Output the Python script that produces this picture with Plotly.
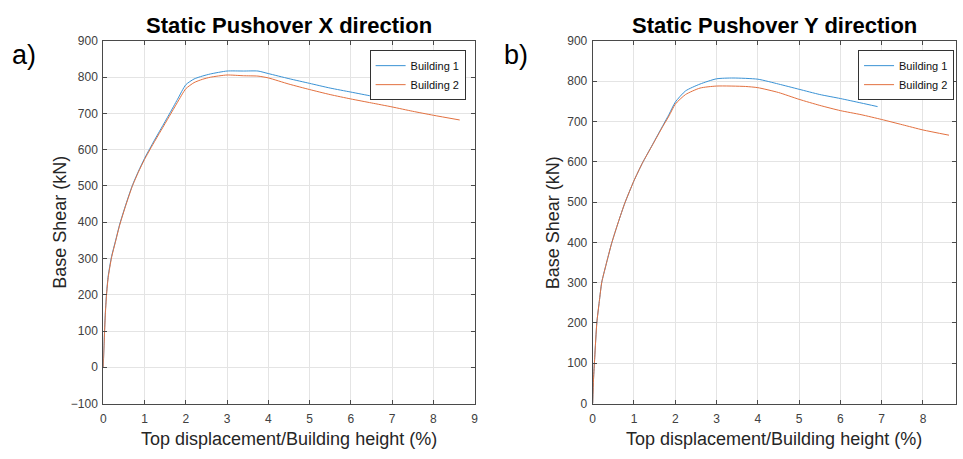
import plotly.graph_objects as go

# ---------------- data ----------------
# X direction
x_dir_b1_x = [0, 0.02, 0.05, 0.08, 0.12, 0.2, 0.3, 0.4, 0.55, 0.7, 0.85, 1.0, 1.2, 1.4, 1.6, 1.8, 2.0, 2.2, 2.4, 2.6, 3.0, 3.4, 3.75, 4.0, 4.5, 5.0, 5.5, 6.0, 6.5, 6.9]
x_dir_b1_y = [0, 70, 150, 205, 252, 305, 350, 395, 450, 500, 540, 576, 618, 658, 698, 739, 779, 795, 803, 809, 817, 817, 817, 810, 796, 783, 770, 759, 748, 740]
x_dir_b2_x = [0, 0.02, 0.05, 0.08, 0.12, 0.2, 0.3, 0.4, 0.55, 0.7, 0.85, 1.0, 1.2, 1.4, 1.6, 1.8, 2.0, 2.2, 2.4, 2.6, 3.0, 3.4, 3.75, 4.0, 4.5, 5.0, 5.5, 6.0, 6.5, 7.0, 7.5, 8.0, 8.64]
x_dir_b2_y = [0, 65, 145, 200, 248, 302, 348, 393, 448, 498, 538, 573, 614, 653, 692, 731, 768, 785, 794, 800, 806, 804, 803, 798, 781, 766, 752, 740, 729, 718, 706, 695, 682]

# Y direction
y_dir_b1_x = [0, 0.02, 0.05, 0.1, 0.16, 0.22, 0.32, 0.46, 0.62, 0.78, 1.0, 1.2, 1.45, 1.7, 1.85, 2.0, 2.25, 2.6, 3.0, 3.4, 4.0, 4.5, 5.0, 5.5, 6.0, 6.5, 6.9]
y_dir_b1_y = [0, 60, 115, 200, 253, 301, 343, 398, 450, 498, 553, 596, 643, 690, 718, 748, 776, 793, 806, 808, 805, 793, 780, 767, 757, 746, 737]
y_dir_b2_x = [0, 0.02, 0.05, 0.1, 0.16, 0.22, 0.32, 0.46, 0.62, 0.78, 1.0, 1.2, 1.45, 1.7, 1.85, 2.0, 2.25, 2.6, 3.0, 3.7, 4.0, 4.5, 5.0, 5.5, 6.0, 6.5, 7.0, 7.5, 8.0, 8.63]
y_dir_b2_y = [0, 60, 115, 200, 253, 301, 343, 398, 450, 498, 553, 596, 642, 688, 714, 743, 767, 783, 788, 787, 784, 772, 755, 740, 727, 717, 705, 692, 679, 666]

series_names = ["Building 1", "Building 2"]
x_ticks_left = [0, 1, 2, 3, 4, 5, 6, 7, 8, 9]
x_ticks_right = [0, 1, 2, 3, 4, 5, 6, 7, 8]
y_ticks_left = [-100, 0, 100, 200, 300, 400, 500, 600, 700, 800, 900]
y_ticks_right = [0, 100, 200, 300, 400, 500, 600, 700, 800, 900]

titles = ["Static Pushover X direction", "Static Pushover Y direction"]
panel_labels = ["a)", "b)"]
x_title = "Top displacement/Building height (%)"
y_title = "Base Shear (kN)"

# ---------------- style ----------------
W, H = 963, 459
FONT = "Liberation Sans, Arial, Helvetica, sans-serif"
BLUE = "#3a92d4"
ORANGE = "#e2703f"
AX = "#4a4a4a"
GRID = "#e4e4e4"
TICKC = "#404040"

def px(x):
    return x / W

def py(y):
    return 1 - y / H

L1, R1 = 101, 475
L2, R2 = 594, 960
T, B = 35, 409

fig = go.Figure()
def line(color):
    return dict(color=color, width=1, shape="spline", smoothing=0.6)

fig.add_trace(go.Scatter(x=x_dir_b1_x, y=x_dir_b1_y, mode="lines", name=series_names[0],
                         line=line(BLUE), xaxis="x", yaxis="y", legend="legend"))
fig.add_trace(go.Scatter(x=x_dir_b2_x, y=x_dir_b2_y, mode="lines", name=series_names[1],
                         line=line(ORANGE), xaxis="x", yaxis="y", legend="legend"))
fig.add_trace(go.Scatter(x=y_dir_b1_x, y=y_dir_b1_y, mode="lines", name=series_names[0],
                         line=line(BLUE), xaxis="x2", yaxis="y2", legend="legend2"))
fig.add_trace(go.Scatter(x=y_dir_b2_x, y=y_dir_b2_y, mode="lines", name=series_names[1],
                         line=line(ORANGE), xaxis="x2", yaxis="y2", legend="legend2"))

axis_common = dict(showgrid=True, gridcolor=GRID, gridwidth=1, zeroline=False,
                   showline=True, linecolor=AX, linewidth=1, mirror="ticks",
                   ticks="inside", ticklen=4, tickcolor=AX,
                   tickfont=dict(family=FONT, size=12, color=TICKC))

fig.update_layout(
    width=W, height=H,
    margin=dict(l=0, r=0, t=0, b=0),
    paper_bgcolor="white", plot_bgcolor="white",
    font=dict(family=FONT),
    xaxis=dict(domain=[px(L1), px(R1)], range=[0, 9], tickvals=x_ticks_left, anchor="y",
               ticklabelstandoff=4, **axis_common),
    yaxis=dict(domain=[py(B), py(T)], range=[-100, 900], tickvals=y_ticks_left, anchor="x",
               ticklabelstandoff=2, **axis_common),
    xaxis2=dict(domain=[px(L2), px(R2)], range=[0, 8.8], tickvals=x_ticks_right, anchor="y2",
                ticklabelstandoff=4, **axis_common),
    yaxis2=dict(domain=[py(B), py(T)], range=[0, 900], tickvals=y_ticks_right, anchor="x2",
                ticklabelstandoff=2, **axis_common),
    legend=dict(x=px(466), y=py(44.5), xanchor="right", yanchor="top",
                bgcolor="white", bordercolor="#333333", borderwidth=1,
                font=dict(family=FONT, size=11, color="#111111"), tracegroupgap=0),
    legend2=dict(x=px(958), y=py(44.5), xanchor="right", yanchor="top",
                 bgcolor="white", bordercolor="#333333", borderwidth=1,
                 font=dict(family=FONT, size=11, color="#111111"), tracegroupgap=0),
)

annotations = []
centers = [(L1 + R1) / 2, (L2 + R2) / 2]
for i, c in enumerate(centers):
    annotations.append(dict(x=px(c), y=py(19), xref="paper", yref="paper", text="<b>%s</b>" % titles[i],
                            showarrow=False, xanchor="center", yanchor="middle",
                            font=dict(family=FONT, size=22, color="black")))
    annotations.append(dict(x=px(c), y=py(446), xref="paper", yref="paper", text=x_title,
                            showarrow=False, xanchor="center", yanchor="middle",
                            font=dict(family=FONT, size=18, color="#262626")))
for lx in [58, 554]:
    annotations.append(dict(x=px(lx), y=py(222), xref="paper", yref="paper", text=y_title,
                            textangle=-90, showarrow=False, xanchor="center", yanchor="middle",
                            font=dict(family=FONT, size=18, color="#262626")))
annotations.append(dict(x=px(21), y=py(50), xref="paper", yref="paper", text=panel_labels[0],
                        showarrow=False, xanchor="center", yanchor="middle",
                        font=dict(family=FONT, size=27, color="black")))
annotations.append(dict(x=px(517), y=py(50), xref="paper", yref="paper", text=panel_labels[1],
                        showarrow=False, xanchor="center", yanchor="middle",
                        font=dict(family=FONT, size=27, color="black")))
fig.update_layout(annotations=annotations)

fig.write_html("out.html")
